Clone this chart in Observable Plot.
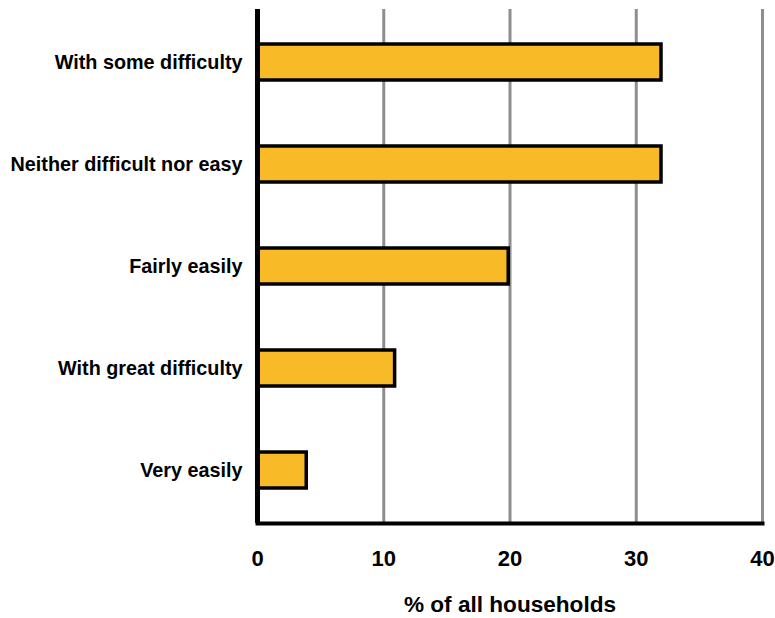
<!DOCTYPE html>
<html>
<head>
<meta charset="utf-8">
<script src="https://cdn.jsdelivr.net/npm/d3@7"></script>
<script src="https://cdn.jsdelivr.net/npm/@observablehq/plot@0.6"></script>
<style>
  html, body { margin: 0; padding: 0; background: #fff; }
</style>
</head>
<body>
<div id="chart"></div>
<script>
// How households are managing financially (share of all households)
const categories = [
  "With some difficulty",
  "Neither difficult nor easy",
  "Fairly easily",
  "With great difficulty",
  "Very easily"
];
const shares = [32, 32, 19.9, 10.9, 3.9];
const xTicks = [0, 10, 20, 30, 40];
const xLabel = "% of all households";

const rows = categories.map((category, i) => ({category, share: shares[i]}));

const chart = Plot.plot({
  width: 775,
  height: 618,
  marginLeft: 257,
  marginRight: 13,
  marginTop: 9,
  marginBottom: 95,
  style: {fontFamily: "'Liberation Sans', Arial, sans-serif", background: "#fff"},
  x: {domain: [0, 40], ticks: xTicks},
  y: {domain: categories, paddingInner: 0.65, paddingOuter: 0.325, align: 0.5},
  marks: [
    Plot.gridX(xTicks.slice(1), {stroke: "#8e8e8e", strokeOpacity: 1, strokeWidth: 3}),
    Plot.barX(rows, {
      x: "share",
      y: "category",
      fill: "#F9BA27",
      stroke: "#000",
      strokeWidth: 3.5,
      strokeLinejoin: "miter"
    }),
    Plot.ruleX([0], {stroke: "#000", strokeWidth: 5}),
    Plot.frame({anchor: "bottom", stroke: "#000", strokeWidth: 4}),
    Plot.axisY({
      tickSize: 0,
      tickPadding: 15,
      fontSize: 19.8,
      fontWeight: "bold",
      fill: "#000",
      label: null
    }),
    Plot.axisX(xTicks, {
      tickSize: 0,
      tickPadding: 27,
      fontSize: 22,
      fontWeight: "bold",
      fill: "#000",
      label: null
    }),
    Plot.text([xLabel], {
      text: d => d,
      frameAnchor: "bottom",
      lineAnchor: "bottom",
      dy: 88,
      fontSize: 22.6,
      fontWeight: "bold",
      fill: "#000"
    })
  ]
});

document.getElementById("chart").appendChild(chart);
</script>
</body>
</html>
